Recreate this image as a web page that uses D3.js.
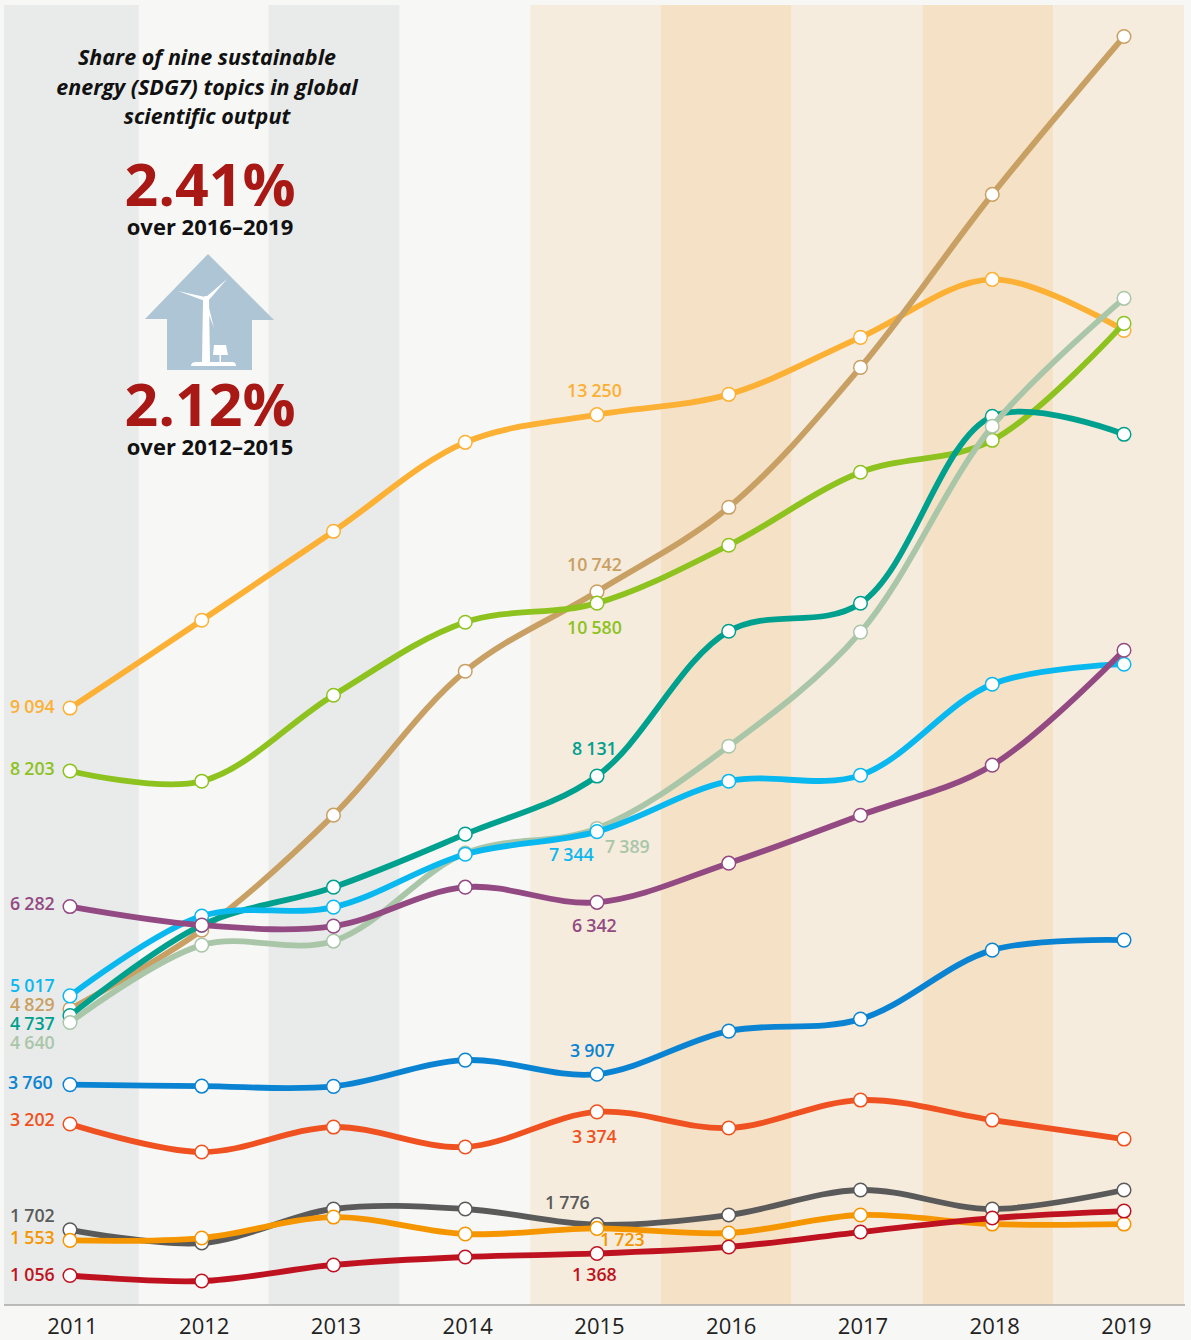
<!DOCTYPE html>
<html>
<head>
<meta charset="utf-8">
<script src="https://cdn.jsdelivr.net/npm/d3@7"></script>
<style>
html,body{margin:0;padding:0;background:#f7f7f5;}
svg{display:block;}
text{font-family:"Open Sans",sans-serif;}
</style>
</head>
<body>
<div id="chart"></div>
<script>
const years = [2011,2012,2013,2014,2015,2016,2017,2018,2019];

const seriesNames = ["yellow","tan","lime","teal","pale","sky","purple","blue","vermilion","grey","orange","crimson"];
const yellowValues    = [9094,10338,11598,12858,13250,13538,14345,15166,14444];
const tanValues       = [4829,5948,7577,9616,10742,11938,13920,16370,18607];
const limeValues      = [8203,8058,9276,10310,10580,11400,12434,12887,14543];
const tealValues      = [4737,6019,6557,7308,8131,10182,10579,13227,12972];
const paleValues      = [4640,5736,5793,7039,7389,8554,10170,13085,14898];
const skyValues       = [5017,6147,6274,7024,7344,8058,8143,9432,9715];
const purpleValues    = [6282,6019,6005,6557,6342,6897,7576,8285,9913];
const blueValues      = [3760,3739,3735,4107,3907,4518,4688,5665,5807];
const vermilionValues = [3202,2805,3159,2876,3374,3145,3541,3258,2989];
const greyValues      = [1702,1516,1998,1998,1776,1913,2267,1998,2267];
const orangeValues    = [1553,1587,1884,1644,1723,1658,1913,1785,1785];
const crimsonValues   = [1056,978,1205,1318,1368,1460,1672,1870,1969];

const seriesValues = [yellowValues,tanValues,limeValues,tealValues,paleValues,skyValues,purpleValues,blueValues,vermilionValues,greyValues,orangeValues,crimsonValues];
const seriesColors = ["#fcb034","#c9a064","#8dc21f","#00a08f","#a9c6a9","#0ab8f0","#934a83","#0a84d2","#ef5220","#5a5a5a","#f59600","#bf1220"];

// Hand placement of the value labels: [series index, year index, x, y]
const labelPlacement = [
  [0,0,10,707],[2,0,10,769],[6,0,10,904],[5,0,10,986],[1,0,10,1005],[3,0,10,1024],[4,0,10,1043],
  [7,0,8,1083],[8,0,10,1120],[9,0,10,1216],[10,0,10,1238],[11,0,10,1275],
  [0,4,567,391],[1,4,567,565],[2,4,567,628],[3,4,572,749],[5,4,549,855],[4,4,605,847],
  [6,4,572,926],[7,4,570,1051],[8,4,572,1137],[9,4,545,1203],[10,4,600,1240],[11,4,572,1275]
];

const titleLines = ["Share of nine sustainable","energy (SDG7) topics in global","scientific output"];
const statBlocks = [["2.41%","over 2016–2019"],["2.12%","over 2012–2015"]];

const W = 1191, H = 1340, plotTop = 5, plotBase = 1305;
const svg = d3.select("#chart").append("svg").attr("width",W).attr("height",H);

const x = d3.scalePoint().domain(years).range([70,1124]);
const bands = d3.scaleBand().domain(years).range([8,1185]);
const y = d3.scaleLinear().domain([1056,18607]).range([1275.5,36.5]);

// Background bands
const bandFill = {2011:"#e9ebea",2013:"#e9ebea",2015:"#f6ecdd",2016:"#f5e2c6",2017:"#f6ecdd",2018:"#f5e2c6",2019:"#f6ecdd"};
svg.append("g").selectAll("rect").data(years.filter(d=>bandFill[d])).join("rect")
  .attr("x",d=>d===2011?4:bands(d)-1)
  .attr("width",d=>d===2011?bands(d)+bands.bandwidth()-4:bands.bandwidth())
  .attr("y",plotTop).attr("height",plotBase-plotTop)
  .attr("fill",d=>bandFill[d]);

// Axis
const axis = d3.axisBottom(x).tickSize(0).tickPadding(13);
const axG = svg.append("g").attr("transform",`translate(0,${plotBase})`).call(axis);
axG.select(".domain").remove();
axG.selectAll("text").attr("font-size",22).attr("fill","#222").attr("dx",2).style("font-family",'"Open Sans",sans-serif');
svg.append("line").attr("x1",4).attr("x2",1185).attr("y1",plotBase).attr("y2",plotBase).attr("stroke","#aaa8a4").attr("stroke-width",1.5);

// Lines and markers
const lineGen = d3.line().x((d,i)=>x(years[i])).y(d=>y(d)).curve(d3.curveCatmullRom.alpha(0.5));
const groups = svg.append("g").selectAll("g").data(seriesValues).join("g");
groups.append("path").attr("d",d=>lineGen(d)).attr("fill","none").attr("stroke-width",5.8)
  .attr("stroke-linecap","round").attr("stroke",(d,i)=>seriesColors[i]);
groups.each(function(vals,si){
  d3.select(this).selectAll("circle").data(vals).join("circle")
    .attr("cx",(d,i)=>x(years[i])).attr("cy",d=>y(d)).attr("r",6.8)
    .attr("fill","#fff").attr("stroke",seriesColors[si]).attr("stroke-width",1.5);
});

// Value labels
const fmt = v => { const s=String(v); return s.slice(0,-3)+" "+s.slice(-3); };
svg.append("g").selectAll("text").data(labelPlacement).join("text")
  .attr("x",d=>d[2]).attr("y",d=>d[3]).attr("dy","0.35em")
  .attr("font-size",17.8).attr("font-weight",600).style("word-spacing","-0.5px")
  .attr("fill",d=>seriesColors[d[0]])
  .text(d=>fmt(seriesValues[d[0]][d[1]]));

// Title
svg.append("g").selectAll("text").data(titleLines).join("text")
  .attr("x",207).attr("y",(d,i)=>[65,95,124][i]).attr("text-anchor","middle")
  .attr("font-size",21.5).attr("font-weight",700).attr("font-style","italic").attr("fill","#111")
  .text(d=>d);

// Stats
const statY = [[206,235],[426,455]];
statBlocks.forEach((b,i)=>{
  svg.append("text").attr("x",210).attr("y",statY[i][0]).attr("text-anchor","middle")
    .attr("font-size",59).attr("font-weight",700).attr("fill","#a81916").text(b[0]);
  svg.append("text").attr("x",210).attr("y",statY[i][1]).attr("text-anchor","middle")
    .attr("font-size",22).attr("font-weight",700).attr("fill","#111").text(b[1]);
});

// House icon with turbine
const icon = svg.append("g");
icon.append("path").attr("d","M208 254L274 320H252V370H167V319H145Z").attr("fill","#adc5d5");
icon.append("path").attr("d","M203 300L209 300L210 362H202Z").attr("fill","#fff");
icon.append("path").attr("d","M191 366Q191 362 196 362H232Q236 362 236 366Z").attr("fill","#fff");
icon.append("circle").attr("cx",206).attr("cy",299).attr("r",3).attr("fill","#fff");
icon.append("path").attr("d","M206 297L227 279L208 301ZM205 297L178 291L205 301ZM207 300L214 328L204 302Z").attr("fill","#fff");
icon.append("path").attr("d","M214 345H226L228 355H213Z").attr("fill","#fff");
icon.append("rect").attr("x",219.5).attr("y",354).attr("width",1.5).attr("height",8).attr("fill","#fff");
</script>
</body>
</html>
